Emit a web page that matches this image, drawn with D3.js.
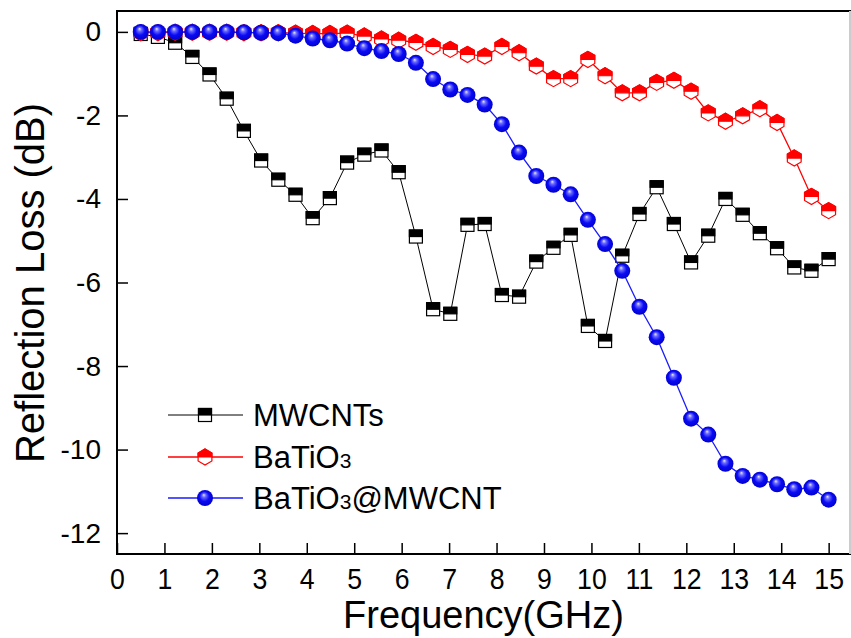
<!DOCTYPE html>
<html>
<head>
<meta charset="utf-8">
<script src="https://cdn.jsdelivr.net/npm/d3@7"></script>
<style>
  body { margin: 0; background: #fff; }
  text { font-family: "Liberation Sans", Arial, sans-serif; fill: #000; }
</style>
</head>
<body>
<div id="chart"></div>
<script>
// Frequency points (GHz)
var freq = [0.5, 0.8625, 1.225, 1.5875, 1.95, 2.3125, 2.675, 3.0375, 3.4, 3.7625,
  4.125, 4.4875, 4.85, 5.2125, 5.575, 5.9375, 6.3, 6.6625, 7.025, 7.3875,
  7.75, 8.1125, 8.475, 8.8375, 9.2, 9.5625, 9.925, 10.2875, 10.65, 11.0125,
  11.375, 11.7375, 12.1, 12.4625, 12.825, 13.1875, 13.55, 13.9125, 14.275, 14.6375, 15];

// Reflection loss (dB) for each sample
var mwcnts = [-0.05, -0.12, -0.26, -0.6, -1.02, -1.6, -2.37, -3.08, -3.54, -3.9,
  -4.46, -3.98, -3.13, -2.94, -2.84, -3.36, -4.9, -6.64, -6.75, -4.62,
  -4.6, -6.3, -6.34, -5.5, -5.17, -4.86, -7.04, -7.4, -5.36, -4.36,
  -3.72, -4.6, -5.52, -4.88, -4.0, -4.38, -4.82, -5.18, -5.64, -5.72, -5.44];

var batio3 = [-0.02, -0.02, -0.01, -0.01, -0.01, -0.01, -0.02, -0.02, -0.02, -0.03,
  -0.04, -0.04, -0.03, -0.1, -0.17, -0.2, -0.25, -0.35, -0.42, -0.54,
  -0.58, -0.35, -0.5, -0.82, -1.12, -1.12, -0.66, -1.05, -1.46, -1.46,
  -1.21, -1.16, -1.42, -1.94, -2.14, -2.01, -1.84, -2.17, -3.02, -3.94, -4.28];

var composite = [0, 0, 0, 0, 0, 0, -0.01, -0.02, -0.03, -0.09,
  -0.16, -0.2, -0.28, -0.39, -0.46, -0.53, -0.74, -1.13, -1.38, -1.51,
  -1.74, -2.21, -2.89, -3.45, -3.66, -3.89, -4.5, -5.08, -5.72, -6.58,
  -7.31, -8.28, -9.26, -9.64, -10.34, -10.63, -10.72, -10.83, -10.95, -10.91, -11.2];

var xTicks = [0, 1, 2, 3, 4, 5, 6, 7, 8, 9, 10, 11, 12, 13, 14, 15];
var yTicks = [0, -2, -4, -6, -8, -10, -12];
var seriesNames = ["MWCNTs", "BaTiO3", "BaTiO3@MWCNT"];

function createChart() {
  var w = 851;
  var h = 638;
  var left = 117, right = 850, top = 11, bottom = 554;

  var svg = d3.select("#chart").append("svg")
    .attr("width", w)
    .attr("height", h);

  // gradient for the shiny blue balls
  var grad = svg.append("defs").append("radialGradient")
    .attr("id", "ball")
    .attr("cx", 0.5).attr("cy", 0.5).attr("r", 0.55)
    .attr("fx", 0.42).attr("fy", 0.3);
  grad.append("stop").attr("offset", "0%").attr("stop-color", "#e8e8ff");
  grad.append("stop").attr("offset", "22%").attr("stop-color", "#6a6aff");
  grad.append("stop").attr("offset", "55%").attr("stop-color", "#0a0af5");
  grad.append("stop").attr("offset", "100%").attr("stop-color", "#0000c8");

  var xScale = d3.scaleLinear().domain([0, 15.45]).range([left, right]);
  var yScale = d3.scaleLinear().domain([-12.5, 0.5]).range([bottom, top]);

  // frame
  svg.append("rect")
    .attr("x", left).attr("y", top)
    .attr("width", right - left).attr("height", bottom - top)
    .attr("fill", "none").attr("stroke", "#000").attr("stroke-width", 2);
  svg.append("line")
    .attr("x1", right).attr("x2", right).attr("y1", top).attr("y2", bottom)
    .attr("stroke", "#ccc").attr("stroke-width", 2);

  // plain hyphen for negatives, like the original
  var fmt = function (d) { return String(d); };

  // x axis (ticks inward)
  var xAxis = svg.append("g")
    .attr("transform", "translate(0," + bottom + ")")
    .call(d3.axisBottom(xScale).tickValues(xTicks).tickFormat(fmt)
      .tickSizeInner(-11).tickSizeOuter(0).tickPadding(14));
  xAxis.select(".domain").remove();
  xAxis.selectAll(".tick line").attr("stroke-width", 1.5);
  xAxis.selectAll("text")
    .attr("dy", "0.71em")
    .style("font-size", "29px")
    .attr("transform", "scale(0.92,1)");

  // y axis (ticks inward)
  var yAxis = svg.append("g")
    .attr("transform", "translate(" + left + ",0)")
    .call(d3.axisLeft(yScale).tickValues(yTicks).tickFormat(fmt)
      .tickSizeInner(-11).tickSizeOuter(0).tickPadding(16));
  yAxis.select(".domain").remove();
  yAxis.selectAll(".tick line").attr("stroke-width", 1.5);
  yAxis.selectAll("text").style("font-size", "28px");

  // axis titles
  svg.append("text")
    .attr("x", (left + right) / 2)
    .attr("y", 628)
    .attr("text-anchor", "middle")
    .style("font-size", "38px")
    .text("Frequency(GHz)");

  svg.append("text")
    .attr("transform", "translate(44," + 283 + ") rotate(-90)")
    .attr("text-anchor", "middle")
    .style("font-size", "40px")
    .text("Reflection Loss (dB)");

  // marker drawers
  function square(g, color) {
    g.append("rect").attr("x", -6.5).attr("y", -6.5).attr("width", 13).attr("height", 13)
      .attr("fill", "#fff").attr("stroke", color).attr("stroke-width", 1.2);
    g.append("rect").attr("x", -6.5).attr("y", -6.5).attr("width", 13).attr("height", 6.5)
      .attr("fill", color).attr("stroke", color).attr("stroke-width", 1.2);
  }
  function hexagon(g, color) {
    var r = 8, hw = 6.9;
    g.append("path")
      .attr("d", "M0," + (-r) + "L" + hw + "," + (-r / 2) + "L" + hw + "," + (r / 2) +
        "L0," + r + "L" + (-hw) + "," + (r / 2) + "L" + (-hw) + "," + (-r / 2) + "Z")
      .attr("fill", "#fff").attr("stroke", color).attr("stroke-width", 1.2);
    g.append("path")
      .attr("d", "M" + (-hw) + ",0L" + (-hw) + "," + (-r / 2) + "L0," + (-r) +
        "L" + hw + "," + (-r / 2) + "L" + hw + ",0Z")
      .attr("fill", color).attr("stroke", color).attr("stroke-width", 1.2);
  }
  function ball(g) {
    g.append("circle").attr("r", 8).attr("fill", "url(#ball)");
  }

  var series = [
    { name: seriesNames[0], values: mwcnts, color: "#000", width: 1, marker: square },
    { name: seriesNames[1], values: batio3, color: "#ff0000", width: 1.3, marker: hexagon },
    { name: seriesNames[2], values: composite, color: "#1a1aff", width: 1.3, marker: ball }
  ];

  var line = d3.line()
    .x(function (d) { return xScale(d[0]); })
    .y(function (d) { return yScale(d[1]); });

  series.forEach(function (s) {
    var pts = freq.map(function (f, i) { return [f, s.values[i]]; });
    svg.append("path")
      .datum(pts)
      .attr("fill", "none")
      .attr("stroke", s.color)
      .attr("stroke-width", s.width)
      .attr("d", line);

    svg.append("g").selectAll("g")
      .data(pts)
      .enter()
      .append("g")
      .attr("transform", function (d) {
        return "translate(" + xScale(d[0]) + "," + yScale(d[1]) + ")";
      })
      .each(function () { s.marker(d3.select(this), s.color); });
  });

  // legend
  var legendY = [415, 457, 498];
  series.forEach(function (s, i) {
    var g = svg.append("g").attr("transform", "translate(0," + legendY[i] + ")");
    g.append("line").attr("x1", 168).attr("x2", 243).attr("y1", 0).attr("y2", 0)
      .attr("stroke", s.color).attr("stroke-width", s.width);
    s.marker(g.append("g").attr("transform", "translate(205,0)"), s.color);
    var t = g.append("text").attr("x", 253).attr("y", 11).style("font-size", "31px");
    if (i === 0) {
      t.text(s.name);
    } else {
      t.append("tspan").text("BaTiO");
      t.append("tspan").style("font-size", "21px").text("3");
      if (i === 2) t.append("tspan").text("@MWCNT");
    }
  });
}

createChart();
</script>
</body>
</html>
